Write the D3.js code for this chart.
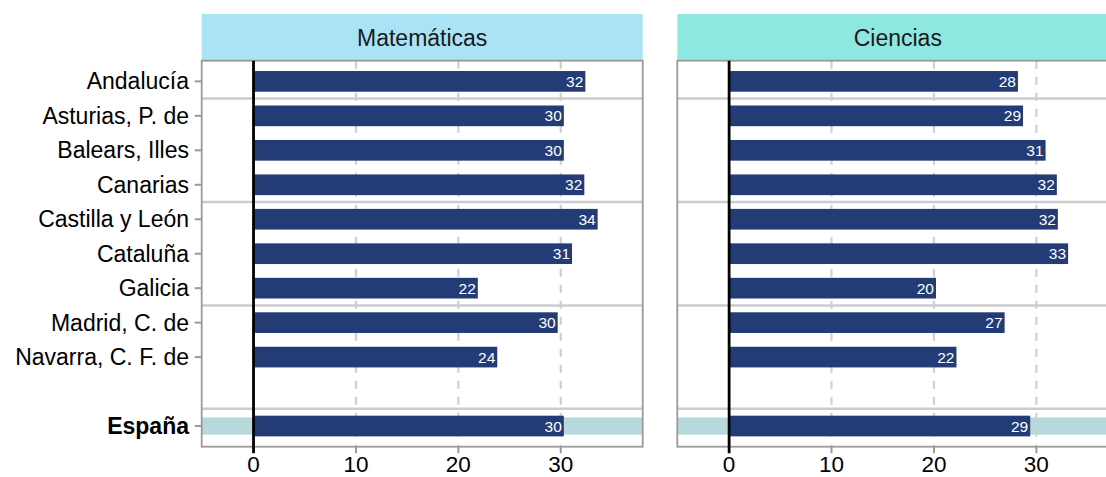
<!DOCTYPE html>
<html>
<head>
<meta charset="utf-8">
<script src="https://cdn.jsdelivr.net/npm/d3@7"></script>
<style>
  html, body { margin: 0; padding: 0; background: #fff; }
  svg { display: block; font-family: "Liberation Sans", Arial, Helvetica, sans-serif; }
</style>
</head>
<body>
<svg id="chart" width="1106" height="477"></svg>
<script>
// ---- data ----
const categories = ["Andalucía", "Asturias, P. de", "Balears, Illes", "Canarias", "Castilla y León",
  "Cataluña", "Galicia", "Madrid, C. de", "Navarra, C. F. de", " ", "España"];
const panelNames = ["Matemáticas", "Ciencias"];
const mathValues = [32.4, 30.3, 30.3, 32.3, 33.6, 31.1, 21.9, 29.7, 23.8, null, 30.3];
const sciValues  = [28.2, 28.7, 30.9, 32.0, 32.1, 33.1, 20.2, 26.9, 22.2, null, 29.4];
const xTickValues = [0, 10, 20, 30];
const separatorAfter = ["Andalucía", "Canarias", "Galicia", " "];
const highlightCategory = "España";
const stripColors = ["#aae3f6", "#8fe7e2"];

// ---- layout ----
const svg = d3.select("#chart");
const panelW = 441;
const panelX = [201.7, 677.3];
const bodyTop = 60.7, bodyBottom = 446.7;
const stripTop = 14;

const y = d3.scalePoint().domain(categories).range([bodyTop, bodyBottom]).padding(0.6);
const step = y.step();
const barH = step * 0.6;

const seriesList = [mathValues, sciValues];

panelNames.forEach((name, pi) => {
  const x0 = panelX[pi];
  const x = d3.scaleLinear().domain([-5.06, 38]).range([x0, x0 + panelW]);
  const g = svg.append("g");
  const rows = categories.map((c, i) => ({ cat: c, value: seriesList[pi][i] }));

  // strip
  g.append("rect")
    .attr("x", x0).attr("y", stripTop)
    .attr("width", panelW).attr("height", bodyTop - stripTop)
    .attr("fill", stripColors[pi]);
  g.append("text")
    .attr("x", x0 + panelW / 2).attr("y", (stripTop + bodyTop) / 2 + 1)
    .attr("text-anchor", "middle").attr("dominant-baseline", "central")
    .attr("font-size", 23).attr("fill", "#1a1a1a")
    .text(name);

  // highlight band
  g.append("rect")
    .attr("x", x0).attr("y", y(highlightCategory) - step * 0.25)
    .attr("width", panelW).attr("height", step * 0.5)
    .attr("fill", "#b8d9dc");

  // vertical dashed grid
  g.selectAll("line.grid").data(xTickValues.filter(d => d !== 0)).join("line")
    .attr("class", "grid")
    .attr("x1", d => x(d)).attr("x2", d => x(d))
    .attr("y1", bodyTop).attr("y2", bodyBottom)
    .attr("stroke", "#cfcfcf").attr("stroke-width", 2.2)
    .attr("stroke-dasharray", "8,8");

  // horizontal separators
  g.selectAll("line.sep").data(separatorAfter).join("line")
    .attr("class", "sep")
    .attr("x1", x0).attr("x2", x0 + panelW)
    .attr("y1", d => y(d) + step / 2).attr("y2", d => y(d) + step / 2)
    .attr("stroke", "#cccccc").attr("stroke-width", 2.5);

  // bars
  const valid = rows.filter(d => d.value != null);
  g.selectAll("rect.bar").data(valid).join("rect")
    .attr("class", "bar")
    .attr("x", x(0)).attr("y", d => y(d.cat) - barH / 2)
    .attr("width", d => x(d.value) - x(0)).attr("height", barH)
    .attr("fill", "#233c75");

  // value labels
  g.selectAll("text.val").data(valid).join("text")
    .attr("class", "val")
    .attr("x", d => x(d.value) - 2).attr("y", d => y(d.cat))
    .attr("text-anchor", "end").attr("dominant-baseline", "central")
    .attr("font-size", 15.5).attr("fill", "#ffffff")
    .text(d => Math.round(d.value));

  // panel border
  g.append("rect")
    .attr("x", x0).attr("y", bodyTop)
    .attr("width", panelW).attr("height", bodyBottom - bodyTop)
    .attr("fill", "none").attr("stroke", "#9a9a9a").attr("stroke-width", 1.8);

  // x-axis ticks + labels
  g.selectAll("line.xt").data(xTickValues).join("line")
    .attr("class", "xt")
    .attr("x1", d => x(d)).attr("x2", d => x(d))
    .attr("y1", bodyBottom).attr("y2", bodyBottom + 6.5)
    .attr("stroke", d => d === 0 ? "#000" : "#9a9a9a").attr("stroke-width", d => d === 0 ? 2.8 : 2);
  g.selectAll("text.xl").data(xTickValues).join("text")
    .attr("class", "xl")
    .attr("x", d => x(d)).attr("y", 472)
    .attr("text-anchor", "middle")
    .attr("font-size", 22.5).attr("fill", "#000")
    .text(d => d);

  // zero line
  g.append("line")
    .attr("x1", x(0)).attr("x2", x(0))
    .attr("y1", bodyTop).attr("y2", bodyBottom)
    .attr("stroke", "#000").attr("stroke-width", 2.8);
});

// y-axis (left panel only)
const yCats = categories.filter(c => c.trim() !== "");
svg.selectAll("line.yt").data(yCats).join("line")
  .attr("class", "yt")
  .attr("x1", panelX[0] - 7).attr("x2", panelX[0])
  .attr("y1", d => y(d)).attr("y2", d => y(d))
  .attr("stroke", "#9a9a9a").attr("stroke-width", 2);
svg.selectAll("text.yl").data(yCats).join("text")
  .attr("class", "yl")
  .attr("x", 189).attr("y", d => y(d))
  .attr("text-anchor", "end").attr("dominant-baseline", "central")
  .attr("font-size", 23).attr("fill", "#000")
  .attr("font-weight", d => d === highlightCategory ? "bold" : "normal")
  .text(d => d);
</script>
</body>
</html>
